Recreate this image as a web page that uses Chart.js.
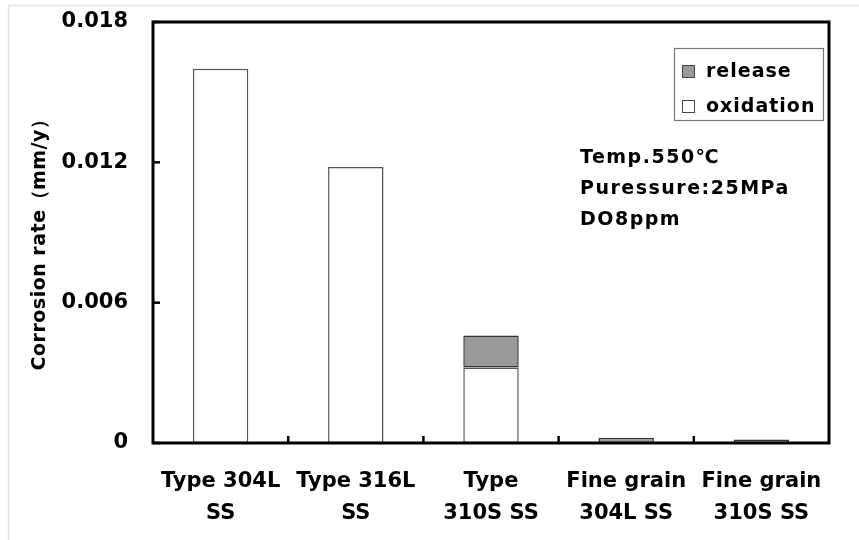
<!DOCTYPE html>
<html>
<head>
<meta charset="utf-8">
<script src="https://cdn.jsdelivr.net/npm/chart.js@4/dist/chart.umd.min.js"></script>
<style>
  html, body { margin: 0; padding: 0; background: #fff; }
  #wrap { width: 859px; height: 540px; position: relative; }
</style>
</head>
<body>
<div id="wrap"><canvas id="corrosionChart"></canvas></div>
<script>
// --- data ---
const categories = [
    ['Type 304L', 'SS'],
    ['Type 316L', 'SS'],
    ['Type', '310S SS'],
    ['Fine grain', '304L SS'],
    ['Fine grain', '310S SS']
];
const oxidation = [0.0160, 0.0118, 0.00323, 0, 0];
const release = [0, 0, 0.00137, 0.00022, 0.00015];
const yTicks = [0, 0.006, 0.012, 0.018];
const yTitle = 'Corrosion rate\uFF08mm/y\uFF09';
const notes = ['Temp.550\u2103', 'Puressure:25MPa', 'DO8ppm'];
// --- end data ---

const FONT = '"DejaVu Sans", sans-serif';

// frame, inward ticks, axis title, legend and test conditions
const decorations = {
    id: 'decorations',
    afterDraw(chart) {
        const ctx = chart.ctx;
        const a = chart.chartArea;
        const x = chart.scales.x;
        const y = chart.scales.y;
        ctx.save();

        // faint page edge
        ctx.strokeStyle = '#e4e4e4';
        ctx.lineWidth = 1.5;
        ctx.beginPath();
        ctx.moveTo(8.5, 540); ctx.lineTo(8.5, 5.5); ctx.lineTo(859, 5.5);
        ctx.stroke();

        // plot box
        ctx.strokeStyle = '#000';
        ctx.lineWidth = 3;
        ctx.strokeRect(a.left, a.top, a.right - a.left, a.bottom - a.top);

        // y ticks pointing inwards
        ctx.lineWidth = 2.5;
        yTicks.forEach(v => {
            const py = y.getPixelForValue(v);
            ctx.beginPath();
            ctx.moveTo(a.left, py); ctx.lineTo(a.left + 7, py);
            ctx.stroke();
        });
        // category separators on the x axis
        for (let i = 1; i < categories.length; i++) {
            const px = (x.getPixelForValue(i - 1) + x.getPixelForValue(i)) / 2;
            ctx.beginPath();
            ctx.moveTo(px, a.bottom); ctx.lineTo(px, a.bottom - 7);
            ctx.stroke();
        }

        // y axis title
        ctx.save();
        ctx.translate(40, 240);
        ctx.rotate(-Math.PI / 2);
        ctx.fillStyle = '#000';
        ctx.font = 'bold 19px ' + FONT;
        ctx.textAlign = 'center';
        ctx.textBaseline = 'middle';
        ctx.letterSpacing = '0.5px';
        ctx.fillText(yTitle, 0, 0);
        ctx.restore();

        // legend
        const lx = 674, ly = 48, lw = 149, lh = 72;
        ctx.fillStyle = '#fff';
        ctx.fillRect(lx, ly, lw, lh);
        ctx.strokeStyle = '#777';
        ctx.lineWidth = 1.2;
        ctx.strokeRect(lx + 0.5, ly + 0.5, lw, lh);
        const items = chart.data.datasets.slice().reverse();
        ctx.font = 'bold 19px ' + FONT;
        ctx.textBaseline = 'middle';
        ctx.letterSpacing = '1px';
        items.forEach((ds, i) => {
            const cy = 71 + i * 35;
            ctx.fillStyle = ds.backgroundColor;
            ctx.fillRect(682, cy - 6, 12, 12);
            ctx.strokeStyle = '#444';
            ctx.lineWidth = 1;
            ctx.strokeRect(682.5, cy - 5.5, 12, 12);
            ctx.fillStyle = '#000';
            ctx.fillText(ds.label, 706, cy + 1);
        });

        // test conditions
        ctx.font = 'bold 19px ' + FONT;
        ctx.letterSpacing = '1.5px';
        notes.forEach((t, i) => {
            ctx.fillText(t, 580, 158 + i * 31);
        });
        ctx.restore();
    }
};

new Chart(document.getElementById('corrosionChart'), {
    type: 'bar',
    data: {
        labels: categories,
        datasets: [
            {
                label: 'oxidation',
                data: oxidation,
                backgroundColor: '#ffffff',
                borderColor: '#555',
                borderWidth: 1.5,
                borderSkipped: false
            },
            {
                label: 'release',
                data: release,
                backgroundColor: '#9a9a9a',
                borderColor: '#333',
                borderWidth: 1.5,
                borderSkipped: false
            }
        ]
    },
    options: {
        responsive: true,
        maintainAspectRatio: false,
        animation: false,
        layout: { padding: { top: 22, right: 30, left: 0, bottom: 0 } },
        datasets: { bar: { barPercentage: 0.41, categoryPercentage: 1 } },
        plugins: {
            legend: { display: false },
            tooltip: { enabled: false }
        },
        scales: {
            x: {
                stacked: true,
                grid: { display: false },
                border: { display: false },
                ticks: {
                    color: '#000',
                    padding: 15,
                    maxRotation: 0,
                    autoSkip: false,
                    font: { family: FONT, size: 21, weight: 'bold', lineHeight: 1.5 }
                },
                afterFit(scale) {
                    scale.height = 540 - 443;
                    scale.paddingLeft = 0;
                    scale.paddingRight = 0;
                }
            },
            y: {
                stacked: true,
                min: 0,
                max: 0.018,
                grid: { display: false },
                border: { display: false },
                afterBuildTicks(scale) {
                    scale.ticks = yTicks.map(v => ({ value: v }));
                },
                ticks: {
                    color: '#000',
                    padding: 17,
                    font: { family: FONT, size: 21, weight: 'bold' },
                    callback: v => String(v)
                },
                afterFit(scale) {
                    scale.width = 153;
                    scale.paddingTop = 0;
                    scale.paddingBottom = 0;
                }
            }
        }
    },
    plugins: [decorations]
});
</script>
</body>
</html>
